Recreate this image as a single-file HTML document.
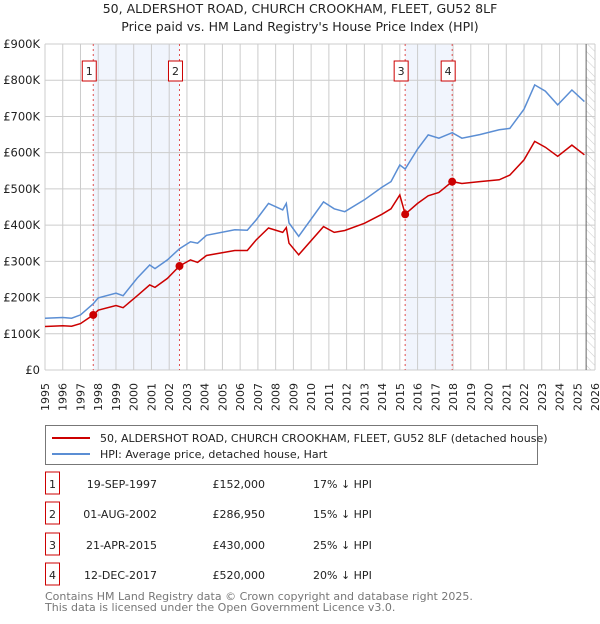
<!DOCTYPE html>
<html><head><meta charset="utf-8"><style>
body{margin:0;background:#fff;width:600px;height:620px;overflow:hidden;font-family:"DejaVu Sans","Liberation Sans",sans-serif;}
svg text{font-family:"DejaVu Sans","Liberation Sans",sans-serif;}
</style></head><body>
<svg id="c" width="600" height="620" xmlns="http://www.w3.org/2000/svg">
<defs><pattern id="hatch" width="6" height="6" patternUnits="userSpaceOnUse" patternTransform="rotate(-45)"><line x1="0" y1="0" x2="0" y2="6" stroke="#ccc" stroke-width="1"/></pattern></defs>
<text x="300" y="13" text-anchor="middle" font-size="12.5" fill="#222">50, ALDERSHOT ROAD, CHURCH CROOKHAM, FLEET, GU52 8LF</text>
<text x="300" y="31" text-anchor="middle" font-size="12.5" fill="#222">Price paid vs. HM Land Registry's House Price Index (HPI)</text>
<g id="plot"></g>
<g>
<rect x="45.5" y="425.5" width="492" height="39" fill="#fff" stroke="#777"/>
<line x1="52" y1="438" x2="90" y2="438" stroke="#cc0000" stroke-width="2"/>
<text x="100" y="442" font-size="11" fill="#222">50, ALDERSHOT ROAD, CHURCH CROOKHAM, FLEET, GU52 8LF (detached house)</text>
<line x1="52" y1="454" x2="90" y2="454" stroke="#5b8ed4" stroke-width="2"/>
<text x="100" y="458" font-size="11" fill="#222">HPI: Average price, detached house, Hart</text>
</g>
<g id="table" font-size="11" fill="#222"></g>
<text x="45" y="600" font-size="11" fill="#777">Contains HM Land Registry data © Crown copyright and database right 2025.</text>
<text x="45" y="611" font-size="11" fill="#777">This data is licensed under the Open Government Licence v3.0.</text>
</svg>
<script>
const years=[1995,1996,1996.5,1997,1997.72,1998,1999,1999.4,2000.2,2000.9,2001.2,2001.9,2002.58,2003.2,2003.6,2004.1,2005.7,2006.4,2006.9,2007.6,2008.4,2008.6,2008.75,2009.3,2010.7,2011.3,2011.9,2013,2014,2014.5,2015,2015.3,2016,2016.6,2017.2,2017.95,2018.5,2019.5,2020.6,2021.2,2022,2022.6,2023.2,2023.9,2024.7,2025.4];
const hpiValues=[143,145,143,152,183,199,212,205,254,290,280,304,335,354,350,372,387,386,414,460,442,460,406,369,464,445,437,470,505,520,566,555,610,649,640,655,640,650,663,667,720,787,770,732,773,741];
const priceValues=[120,122,121,128,152,165,178,172,205,235,228,253,287,304,297,316,330,330,359,392,380,393,350,318,396,380,385,405,430,445,483,430,460,481,490,520,515,520,525,538,580,631,615,590,621,594];
const yTicks=[0,100,200,300,400,500,600,700,800,900];
const yTickLabels=["£0","£100K","£200K","£300K","£400K","£500K","£600K","£700K","£800K","£900K"];
const saleYears=[1997.72,2002.58,2015.3,2017.95];
const salePrices=[152,286.95,430,520];
const saleDates=["19-SEP-1997","01-AUG-2002","21-APR-2015","12-DEC-2017"];
const salePriceLabels=["£152,000","£286,950","£430,000","£520,000"];
const saleDiffs=["17% ↓ HPI","15% ↓ HPI","25% ↓ HPI","20% ↓ HPI"];

const X0=45,X1=595,Y0=370,Y1=44;
const xs=y=>X0+(y-1995)/(2026-1995)*(X1-X0);
const ys=v=>Y0-v/900*(Y0-Y1);
const NS="http://www.w3.org/2000/svg";
const plot=document.getElementById('plot');
function mk(tag,attrs,parent){const e=document.createElementNS(NS,tag);for(const k in attrs)e.setAttribute(k,attrs[k]);(parent||plot).appendChild(e);return e;}

for(let i=0;i<4;i+=2){const r=mk('rect',{x:xs(saleYears[i]),y:Y1,width:xs(saleYears[i+1])-xs(saleYears[i]),height:Y0-Y1,fill:'#eef3fc',opacity:0.8});

}
const hr=mk('rect',{x:xs(2025.5),y:Y1,width:X1-xs(2025.5),height:Y0-Y1,fill:'url(#hatch)'});


for(let yr=1995;yr<=2026;yr++){const l=mk('line',{x1:xs(yr),x2:xs(yr),y1:Y1,y2:Y0,stroke:'#cccccc','stroke-width':1});


const t=mk('text',{x:0,y:0,'font-size':11,fill:'#222','text-anchor':'end',transform:`translate(${xs(yr)+4},${Y0+13}) rotate(-90)`});
t.textContent=yr;

}
yTicks.forEach((v,i)=>{const l=mk('line',{x1:X0,x2:X1,y1:ys(v),y2:ys(v),stroke:'#cccccc','stroke-width':1});


const t=mk('text',{x:X0-5,y:ys(v)+4,'font-size':11.5,fill:'#222','text-anchor':'end'});
t.textContent=yTickLabels[i];

});
const nl=mk('line',{x1:xs(2025.5),x2:xs(2025.5),y1:Y1,y2:Y0,stroke:'#666','stroke-width':1});


saleYears.forEach((yr,i)=>{const l=mk('line',{x1:xs(yr),x2:xs(yr),y1:Y1,y2:Y0,stroke:'#e05050','stroke-width':1,'stroke-dasharray':'2,3'});


const b=mk('rect',{x:xs(yr)-11,y:61,width:14,height:20,fill:'#fff',stroke:'#cc0000'});


const t=mk('text',{x:xs(yr)-4,y:75,'font-size':11,fill:'#222','text-anchor':'middle'});
t.textContent=i+1;

});
const path=vals=>years.map((y,i)=>(i?'L':'M')+xs(y).toFixed(1)+','+ys(vals[i]).toFixed(1)).join('');
const hp=mk('path',{d:path(hpiValues),fill:'none',stroke:'#5b8ed4','stroke-width':1.5});


const pp=mk('path',{d:path(priceValues),fill:'none',stroke:'#cc0000','stroke-width':1.5});


saleYears.forEach((yr,i)=>{const c=mk('circle',{cx:xs(yr),cy:ys(salePrices[i]),r:4,fill:'#cc0000'});

});
const tb=document.getElementById('table');
const rowY=[484,514,545,575];
saleDates.forEach((d,i)=>{const y=rowY[i];
const b=mk('rect',{x:45.5,y:y-12,width:14,height:22,fill:'#fff',stroke:'#cc0000'},tb);


const cells=[[52.5,String(i+1),'middle','table-index'],[157,d,'end','table-date'],[265,salePriceLabels[i],'end','table-price'],[313,saleDiffs[i],'start','table-hpi-diff']];
cells.forEach(c=>{const t=mk('text',{x:c[0],y:y+4,'text-anchor':c[2],'font-size':11,fill:'#222'},tb);
t.textContent=c[1];

});});
</script>
</body></html>
